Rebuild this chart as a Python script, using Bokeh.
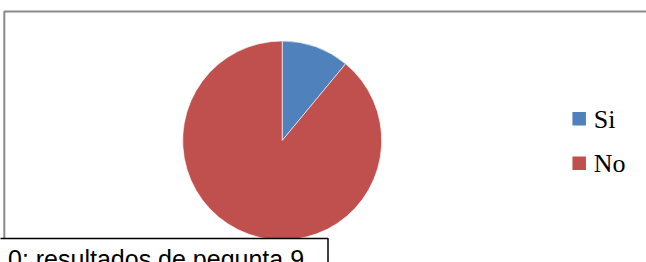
import math
from bokeh.plotting import figure
from bokeh.models import Range1d, ColumnDataSource
from bokeh.core.properties import value
from bokeh.embed import file_html
from bokeh.resources import INLINE

# ---- data ----
categories = ["Si", "No"]
values = [11, 89]
colors = ["#4F81BD", "#C0504D"]
caption = "0: resultados de pegunta 9"

W, H = 646, 262
p = figure(width=W, height=H, output_backend="svg", toolbar_location=None,
           x_range=Range1d(0, W), y_range=Range1d(0, H),
           min_border=0, outline_line_color=None)
p.axis.visible = False
p.xgrid.visible = False
p.ygrid.visible = False
p.background_fill_color = "white"
p.border_fill_color = "white"

# chart frame (gray)
p.quad(left=[3.8], right=[W + 20], bottom=[-20], top=[251],
       fill_color=None, line_color="#8a8a8a", line_width=2)

# pie, starting at 12 o'clock going clockwise
total = float(sum(values))
cx, cy, r = 281.7, 122.0, 99.5
starts, ends = [], []
cum = 0.0
for v in values:
    a0 = math.pi / 2 - 2 * math.pi * (cum + v) / total
    a1 = math.pi / 2 - 2 * math.pi * cum / total
    starts.append(a0)
    ends.append(a1)
    cum += v
src = ColumnDataSource(dict(start=starts, end=ends, color=colors, cat=categories))
p.wedge(x=cx, y=cy, radius=r, start_angle="start", end_angle="end",
        fill_color="color", line_color="white", line_width=0.6, source=src)

# legend
leg_x = 578.7
leg_y0 = 143.7
leg_dy = 44.4
ly = [leg_y0 - i * leg_dy for i in range(len(categories))]
lsrc = ColumnDataSource(dict(x=[leg_x] * len(categories), y=ly, color=colors,
                             tx=[leg_x + 14.6] * len(categories),
                             ty=[yy - 0.2 for yy in ly], label=categories))
p.scatter(x="x", y="y", marker="square", size=13.5, fill_color="color",
          line_color=None, source=lsrc)
p.text(x="tx", y="ty", text="label", text_font=value("Liberation Serif"),
       text_font_size="26px", text_color="black", text_baseline="alphabetic",
       text_align="left", source=lsrc)

# caption box
p.quad(left=[-10], right=[327.5], bottom=[-20], top=[24],
       fill_color="white", line_color="black", line_width=1.5)
p.text(x=[7.5], y=[4.0], text=[caption], text_font=value("Liberation Sans"),
       text_font_size="25px", text_color="black", text_baseline="alphabetic",
       text_align="left")

open("out.html", "w").write(file_html(p, INLINE))
